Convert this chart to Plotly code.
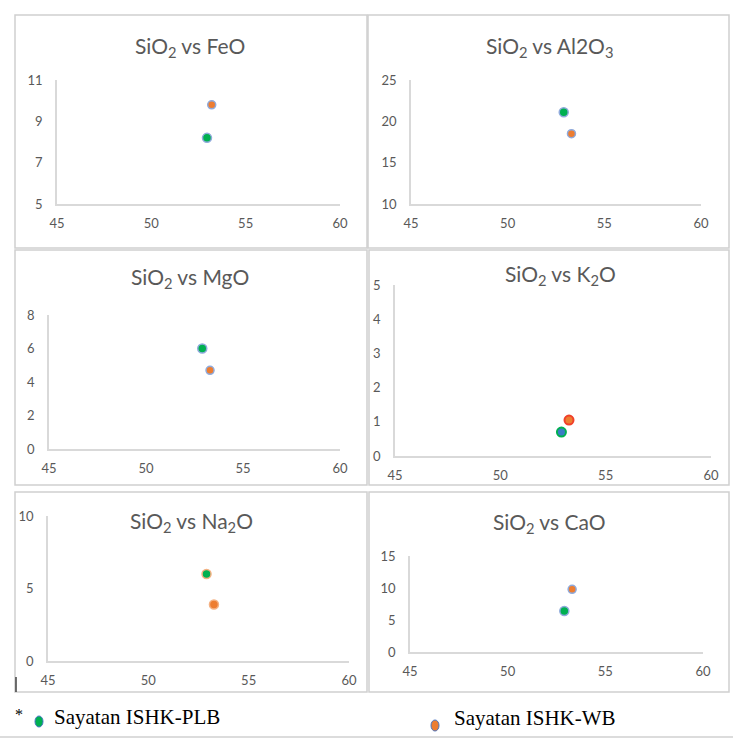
import plotly.graph_objects as go

W, H = 736, 740

# ---- data ----
titles = ["SiO<sub>2</sub> vs FeO", "SiO<sub>2</sub> vs Al2O<sub>3</sub>", "SiO<sub>2</sub> vs MgO",
          "SiO<sub>2</sub> vs K<sub>2</sub>O", "SiO<sub>2</sub> vs Na<sub>2</sub>O", "SiO<sub>2</sub> vs CaO"]
sio2_plb = [52.95, 52.9, 52.9, 52.9, 52.9, 52.9]
sio2_wb = [53.2, 53.3, 53.3, 53.26, 53.27, 53.3]
oxide_plb = [8.2, 21.1, 6.0, 0.7, 6.0, 6.4]
oxide_wb = [9.8, 18.5, 4.7, 1.05, 3.9, 9.8]
y_ranges = [[5, 11], [10, 25], [0, 8], [0, 5], [0, 10], [0, 15]]
y_ticks = [[5, 7, 9, 11], [10, 15, 20, 25], [0, 2, 4, 6, 8], [0, 1, 2, 3, 4, 5], [0, 5, 10], [0, 5, 10, 15]]
x_range = [45, 60]
x_ticks = [45, 50, 55, 60]
series_names = ["Sayatan ISHK-PLB", "Sayatan ISHK-WB"]

# ---- layout geometry (pixels) ----
# plot areas: (x0, x1, ytop, ybottom)
areas = [
    (57, 340, 80, 204),
    (411, 701, 80, 204),
    (49, 340, 315, 449),
    (395, 711, 285, 456),
    (48, 349, 516, 661),
    (410, 703, 556, 652),
]
title_pos = [(190, 47), (549, 47), (190, 278), (560, 275), (191, 522), (549, 523)]
boxes = [
    (15, 367, 15, 248), (368, 729, 15, 248),
    (15, 367, 250, 485), (369, 729, 250, 485),
    (15, 367, 492, 692), (369, 729, 492, 692),
]

GREEN = "#00B050"
ORANGE = "#ED7D31"
EDGE = "#8FAADC"
GREY = "#595959"
AXIS = "#D9D9D9"

fig = go.Figure()
layout = dict(template="none", width=W, height=H,
              margin=dict(l=0, r=0, t=0, b=0, pad=0, autoexpand=False),
              paper_bgcolor="white", plot_bgcolor="white", showlegend=False)

def px(x):
    return x / W

def py(y):
    return 1 - y / H

shapes = []
annotations = []
for i in range(6):
    n = "" if i == 0 else str(i + 1)
    x0, x1, yt, yb = areas[i]
    layout["xaxis" + n] = dict(domain=[px(x0), px(x1)], range=x_range, tickvals=x_ticks,
                               showgrid=False, zeroline=False, showline=True, linecolor=AXIS,
                               linewidth=1.5, ticks="", ticklabelstandoff=7, automargin=False,
                               tickfont=dict(family="Lato", size=13, color=GREY),
                               anchor="y" + n, fixedrange=True)
    layout["yaxis" + n] = dict(domain=[py(yb), py(yt)], range=y_ranges[i], tickvals=y_ticks[i],
                               showgrid=False, zeroline=False, showline=True, linecolor=AXIS,
                               linewidth=1.5, ticks="", ticklabelstandoff=10, automargin=False,
                               tickfont=dict(family="Lato", size=13, color=GREY),
                               anchor="x" + n, fixedrange=True)
    # series
    if i == 3:
        plb_marker = dict(color="#3A7CC4", size=9, line=dict(color=GREEN, width=2))
        wb_marker = dict(color=ORANGE, size=9, line=dict(color="#F0402A", width=2))
    elif i == 4:
        plb_marker = dict(color=GREEN, size=9, line=dict(color="#F4B183", width=1.5))
        wb_marker = dict(color=ORANGE, size=9, line=dict(color="#F4B183", width=1.5))
    else:
        plb_marker = dict(color=GREEN, size=9, line=dict(color=EDGE, width=1.5))
        wb_marker = dict(color=ORANGE, size=8, line=dict(color=EDGE, width=1.5))
    fig.add_trace(go.Scatter(x=[sio2_plb[i]], y=[oxide_plb[i]], mode="markers",
                             marker=plb_marker, name=series_names[0],
                             xaxis="x" + n, yaxis="y" + n))
    fig.add_trace(go.Scatter(x=[sio2_wb[i]], y=[oxide_wb[i]], mode="markers",
                             marker=wb_marker, name=series_names[1],
                             xaxis="x" + n, yaxis="y" + n))
    tx, ty = title_pos[i]
    annotations.append(dict(text=titles[i], x=px(tx), y=py(ty), xref="paper", yref="paper",
                            xanchor="center", yanchor="middle", showarrow=False,
                            font=dict(family="Lato", size=21, color=GREY)))
    bx0, bx1, byt, byb = boxes[i]
    shapes.append(dict(type="rect", xref="paper", yref="paper",
                       x0=px(bx0), x1=px(bx1), y0=py(byb), y1=py(byt),
                       line=dict(color="#D0D0D0", width=1.5), fillcolor="rgba(0,0,0,0)",
                       layer="below"))

# small dark tick mark at bottom-left
shapes.append(dict(type="line", xref="paper", yref="paper", x0=px(16), x1=px(16),
                   y0=py(677), y1=py(692), line=dict(color="#404040", width=1.5)))
# bottom frame line
shapes.append(dict(type="line", xref="paper", yref="paper", x0=0, x1=px(733),
                   y0=py(737), y1=py(737), line=dict(color="#D0D0D0", width=1.5)))

# legend (custom)
shapes.append(dict(type="circle", xref="paper", yref="paper", x0=px(35), x1=px(43),
                   y0=py(727), y1=py(716), fillcolor=GREEN, line=dict(color="#4472C4", width=1)))
shapes.append(dict(type="circle", xref="paper", yref="paper", x0=px(431), x1=px(439),
                   y0=py(731), y1=py(720), fillcolor=ORANGE, line=dict(color="#4472C4", width=1)))
annotations.append(dict(text="*", x=px(19), y=py(714), xref="paper", yref="paper",
                        xanchor="center", yanchor="middle", showarrow=False,
                        font=dict(family="Liberation Serif", size=16, color="black")))
annotations.append(dict(text=series_names[0], x=px(52), y=py(717), xref="paper", yref="paper",
                        xanchor="left", yanchor="middle", showarrow=False,
                        font=dict(family="Liberation Serif", size=21, color="black")))
annotations.append(dict(text=series_names[1], x=px(452), y=py(718), xref="paper", yref="paper",
                        xanchor="left", yanchor="middle", showarrow=False,
                        font=dict(family="Liberation Serif", size=21, color="black")))

layout["shapes"] = shapes
layout["annotations"] = annotations
fig.update_layout(**layout)
fig.write_html("out.html", config={"displayModeBar": False},
               post_script="document.body.style.margin='0';document.body.style.overflow='hidden';")
